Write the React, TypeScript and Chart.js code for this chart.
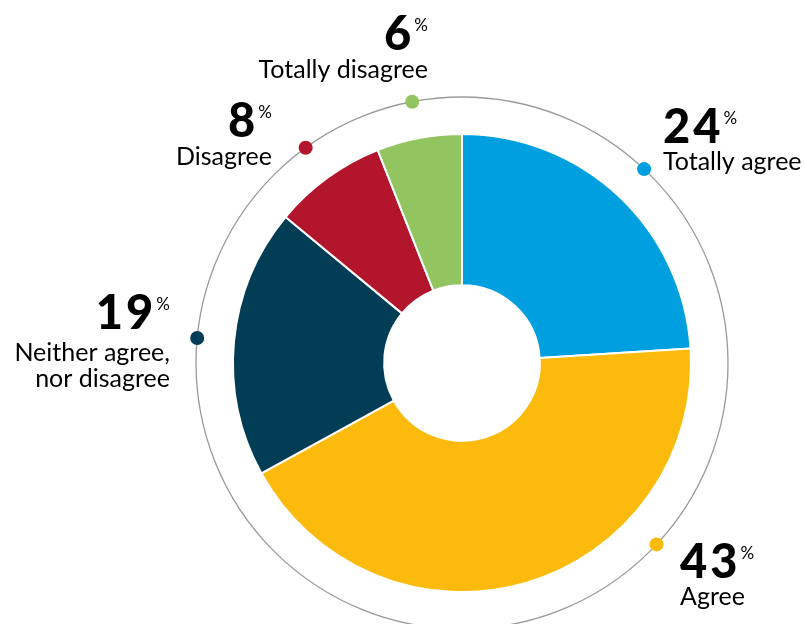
import React, { useEffect, useRef } from "react";
import { Chart, registerables } from "chart.js";

Chart.register(...registerables);

const categories = ["Totally agree", "Agree", "Neither agree,\nnor disagree", "Disagree", "Totally disagree"];
const values = [24, 43, 19, 8, 6];
const colors = ["#009FDF", "#FBBA0C", "#023D56", "#B2152C", "#92C45F"];

// label layout (offsets from chart centre, px) and dot angle overrides (deg from top, clockwise)
const labelLayout = [
  { dx: 201, dy: -220, align: "left", gap: 27 },
  { dx: 218, dy: 215, align: "left", gap: 27 },
  { dx: -292, dy: -34, align: "right", gap: 32 },
  { dx: -190, dy: -226, align: "right", gap: 28 },
  { dx: -34, dy: -313, align: "right", gap: 28 },
];
const dotAngleOverride: Record<number, number> = { 1: 133 };

const NUM_FONT = "900 47px Lato, 'DejaVu Sans', sans-serif";
const PCT_FONT = "400 17px Lato, 'DejaVu Sans', sans-serif";
const TXT_FONT = "400 25px Lato, 'DejaVu Sans', sans-serif";

const decorPlugin = {
  id: "decor",
  afterDatasetsDraw(chart: any) {
    const ctx = chart.ctx;
    const meta = chart.getDatasetMeta(0);
    const arc0 = meta.data[0];
    if (!arc0) return;
    const cx = arc0.x;
    const cy = arc0.y;
    const R = arc0.outerRadius;
    const ringR = R + 37;
    ctx.save();
    ctx.beginPath();
    ctx.arc(cx, cy, ringR, 0, Math.PI * 2);
    ctx.strokeStyle = "#9a9a9a";
    ctx.lineWidth = 1.3;
    ctx.stroke();

    meta.data.forEach((arc: any, i: number) => {
      let ang = (arc.startAngle + arc.endAngle) / 2;
      if (dotAngleOverride[i] !== undefined) {
        ang = (dotAngleOverride[i] * Math.PI) / 180 - Math.PI / 2;
      }
      const x = cx + ringR * Math.cos(ang);
      const y = cy + ringR * Math.sin(ang);
      ctx.beginPath();
      ctx.arc(x, y, 7, 0, Math.PI * 2);
      ctx.fillStyle = colors[i];
      ctx.fill();

      const L = labelLayout[i];
      const ax = cx + L.dx;
      const by = cy + L.dy;
      const num = String(values[i]);
      ctx.fillStyle = "#000";
      ctx.textBaseline = "alphabetic";
      ctx.font = NUM_FONT;
      (ctx as any).letterSpacing = "3px";
      const nw = ctx.measureText(num).width;
      (ctx as any).letterSpacing = "0px";
      ctx.font = PCT_FONT;
      const pw = ctx.measureText("%").width;
      const gapPct = 0;
      let nx: number;
      if (L.align === "left") {
        nx = ax;
      } else {
        nx = ax - pw - gapPct - nw;
      }
      ctx.textAlign = "left";
      ctx.font = NUM_FONT;
      (ctx as any).letterSpacing = "3px";
      ctx.fillText(num, nx, by);
      (ctx as any).letterSpacing = "0px";
      ctx.font = PCT_FONT;
      ctx.fillText("%", nx + nw + gapPct, by - 19);

      ctx.font = TXT_FONT;
      ctx.textAlign = L.align as CanvasTextAlign;
      const lines = categories[i].split("\n");
      lines.forEach((ln, k) => {
        ctx.fillText(ln, ax, by + L.gap + k * 26);
      });
    });
    ctx.restore();
  },
};

export default function App() {
  const ref = useRef<HTMLCanvasElement>(null);
  useEffect(() => {
    if (!ref.current) return;
    const chart = new Chart(ref.current, {
      type: "doughnut",
      data: {
        labels: categories,
        datasets: [
          {
            data: values,
            backgroundColor: colors,
            borderColor: "#ffffff",
            borderWidth: 2,
            hoverOffset: 0,
          },
        ],
      },
      options: {
        animation: false,
        responsive: false,
        cutout: "34%",
        layout: { padding: { left: 232, right: 113, top: 133, bottom: 31 } },
        plugins: {
          legend: { display: false },
          tooltip: { enabled: false },
        },
      },
      plugins: [decorPlugin],
    });
    return () => chart.destroy();
  }, []);
  return (
    <div style={{ position: "absolute", left: 0, top: 0, width: 805, height: 624, background: "#fff" }}>
      <canvas ref={ref} width={805} height={624} style={{ width: 805, height: 624, display: "block" }} />
    </div>
  );
}
